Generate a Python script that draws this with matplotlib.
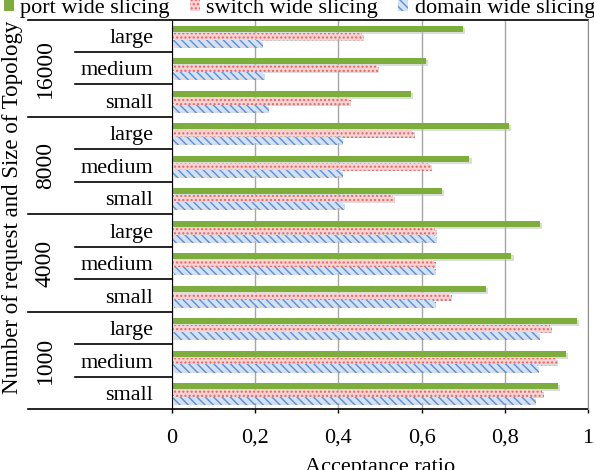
import numpy as np
import matplotlib
matplotlib.use('Agg')
import matplotlib.pyplot as plt
import matplotlib.patheffects as pe
from matplotlib.patches import Patch

plt.rcParams['font.family'] = ['Liberation Serif', 'DejaVu Serif']
plt.rcParams['hatch.linewidth'] = 1.0

# data, top-to-bottom as in the chart
groups = ['16000', '8000', '4000', '1000']
sizes = ['large', 'medium', 'small']
port_wide = [0.70, 0.61, 0.575, 0.81, 0.715, 0.65, 0.885, 0.816, 0.755, 0.973, 0.947, 0.927]
switch_wide = [0.456, 0.493, 0.426, 0.578, 0.621, 0.531, 0.631, 0.63, 0.667, 0.908, 0.922, 0.889]
domain_wide = [0.213, 0.218, 0.228, 0.406, 0.406, 0.41, 0.631, 0.63, 0.63, 0.88, 0.877, 0.871]
xticks = [0, 0.2, 0.4, 0.6, 0.8, 1.0]
xtick_labels = ['0', '0,2', '0,4', '0,6', '0,8', '1']

cats = [s for g in groups for s in sizes]
y = np.arange(len(cats))

fig = plt.figure(figsize=(5.94, 4.70), dpi=100)
ax = fig.add_axes([0.2896, 0.1291, 0.7003, 0.8294])

h = 0.19
off = 0.215
shadow = [pe.SimplePatchShadow(offset=(1.5, -1.5), shadow_rgbFace='#bbbbbb', alpha=0.5), pe.Normal()]

b1 = ax.barh(y - off, port_wide, height=h, color='#7cad3d', edgecolor='#7cad3d', linewidth=0)
b2 = ax.barh(y, switch_wide, height=h, facecolor='#fbd3d3', edgecolor='#e86464', hatch='....', linewidth=0)
b3 = ax.barh(y + off, domain_wide, height=h, facecolor='#d2e1f5', edgecolor='#5b8fd8', hatch='\\\\\\\\', linewidth=0)
for bars in (b1, b2, b3):
    for p in bars:
        p.set_path_effects(shadow)

ax.set_ylim(len(cats) - 0.5, -0.5)
ax.set_xlim(0, 1)
ax.set_xticks(xticks)
ax.set_xticklabels(xtick_labels, fontsize=16)
ax.set_yticks(y)
ax.set_yticklabels(cats, fontsize=16)
ax.tick_params(axis='y', length=0, pad=13.5)
ax.tick_params(axis='x', direction='out', length=3, width=1, pad=11)

ax.set_axisbelow(True)
ax.xaxis.grid(True, color='#a6a6a6', linewidth=1)

for s in ['top', 'bottom']:
    ax.spines[s].set_visible(False)
ax.spines['left'].set_color('black')
ax.spines['right'].set_color('#8c8c8c')

# hierarchical axis lines
trans = ax.get_yaxis_transform()
for i in range(len(cats) + 1):
    yy = i - 0.5
    if i == 0 or i == len(cats):
        ax.plot([-0.346, 1.0], [yy, yy], color='black', lw=1.2, transform=trans, clip_on=False)
    elif i % 3 == 0:
        ax.plot([-0.346, 0], [yy, yy], color='black', lw=1.2, transform=trans, clip_on=False)
    else:
        ax.plot([-0.233, 0], [yy, yy], color='black', lw=1.2, transform=trans, clip_on=False)

for k, g in enumerate(groups):
    ax.text(-0.305, 3 * k + 1, g, rotation=90, ha='center', va='center',
            fontsize=17, transform=trans)

ax.text(-0.383, 0.518, 'Number of request and Size of Topology', rotation=90,
        ha='center', va='center', fontsize=16.5, transform=ax.transAxes)
ax.set_xlabel('Acceptance ratio', fontsize=16, labelpad=7.5)

handles = [Patch(facecolor='#7cad3d', edgecolor='#7cad3d', linewidth=0),
           Patch(facecolor='#fbd3d3', edgecolor='#e86464', hatch='....', linewidth=0),
           Patch(facecolor='#d2e1f5', edgecolor='#5b8fd8', hatch='\\\\\\\\', linewidth=0)]
fig.legend(handles, ['port wide slicing', 'switch wide slicing', 'domain wide slicing'],
           loc='center', bbox_to_anchor=(0.504, 0.983), ncol=3, frameon=False,
           fontsize=16, handlelength=0.45, handleheight=0.5, handletextpad=0.3,
           columnspacing=0.9, borderaxespad=0, borderpad=0)

fig.savefig('out.png', dpi=100)
